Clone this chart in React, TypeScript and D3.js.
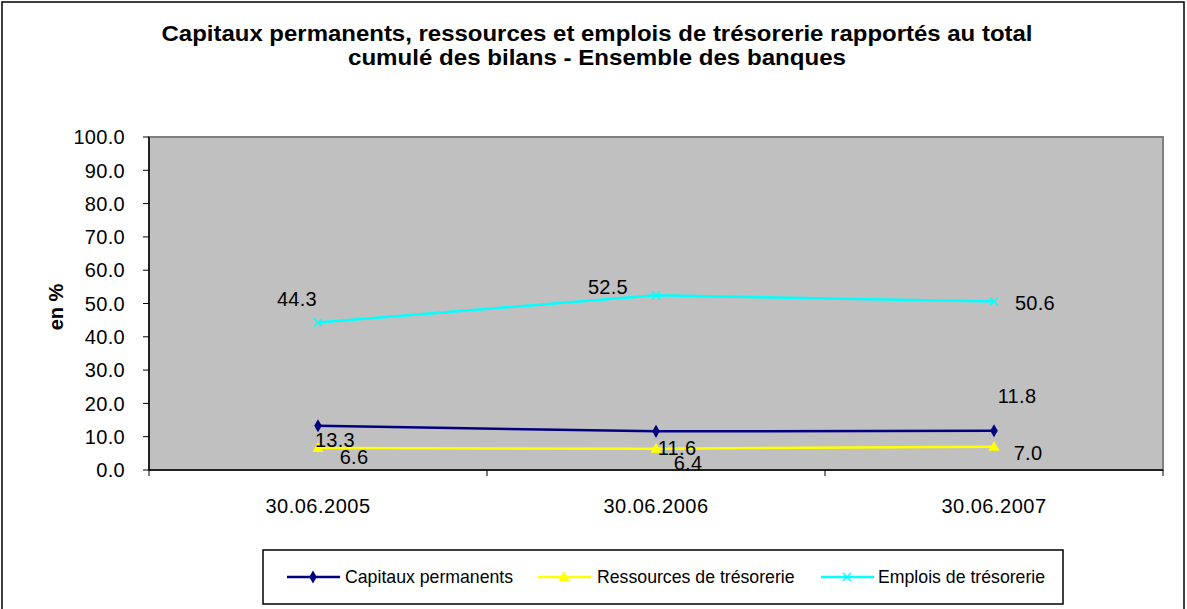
import React from 'react';
import * as d3 from 'd3';

const categories = ['30.06.2005', '30.06.2006', '30.06.2007'];
const capitauxPermanents = [13.3, 11.6, 11.8];
const ressourcesTresorerie = [6.6, 6.4, 7.0];
const emploisTresorerie = [44.3, 52.5, 50.6];
const yTicks = [0, 10, 20, 30, 40, 50, 60, 70, 80, 90, 100];

const titleLines = [
  'Capitaux permanents, ressources et emplois de trésorerie rapportés au total',
  'cumulé des bilans - Ensemble des banques',
];

// pixel offsets of each data label from its point
const labelOffsets = {
  capitaux: [[17, 14], [21, 16], [23, -35]],
  ressources: [[36, 9], [32, 14], [34, 6]],
  emplois: [[-21, -24], [-48, -8], [41, 1]],
};

const FONT = '"Liberation Sans", Arial, sans-serif';
const W = 1187;
const H = 609;
const plot = { left: 149, top: 137, right: 1163, bottom: 470 };

type Marker = 'diamond' | 'triangle' | 'cross';

const series = [
  { key: 'capitaux', name: 'Capitaux permanents', values: capitauxPermanents, color: '#000080', marker: 'diamond' as Marker },
  { key: 'ressources', name: 'Ressources de trésorerie', values: ressourcesTresorerie, color: '#FFFF00', marker: 'triangle' as Marker },
  { key: 'emplois', name: 'Emplois de trésorerie', values: emploisTresorerie, color: '#00FFFF', marker: 'cross' as Marker },
];

const MarkerShape: React.FC<{ type: Marker; x: number; y: number; color: string }> = ({ type, x, y, color }) => {
  if (type === 'diamond') {
    return <path d={d3.symbol(d3.symbolDiamond, 50)()!} transform={`translate(${x},${y})`} fill={color} />;
  }
  if (type === 'triangle') {
    return <path d={`M${x},${y - 6}L${x + 5.5},${y + 4}L${x - 5.5},${y + 4}Z`} fill={color} />;
  }
  return (
    <path
      d={`M${x - 4},${y - 4}L${x + 4},${y + 4}M${x - 4},${y + 4}L${x + 4},${y - 4}`}
      stroke={color}
      strokeWidth={1.5}
      fill="none"
    />
  );
};

export default function App() {
  const x = d3.scaleBand<string>().domain(categories).range([plot.left, plot.right]).padding(0);
  const y = d3.scaleLinear().domain([0, 100]).range([plot.bottom, plot.top]);
  const cx = (c: string) => (x(c) ?? 0) + x.bandwidth() / 2;

  const line = d3
    .line<number>()
    .x((_, i) => cx(categories[i]))
    .y(d => y(d));

  const xBoundaries = [...categories.map(c => x(c) ?? 0), plot.right];

  const legendItems = [
    { lx: 287, tx: 345 },
    { lx: 538, tx: 597 },
    { lx: 821, tx: 878 },
  ];
  const titleWidths = [871, 498];

  return (
    <svg
      width={W}
      height={H}
      style={{ position: 'absolute', left: 0, top: 0, background: '#fff' }}
      fontFamily={FONT}
    >
      {/* outer chart border */}
      <rect x={2} y={2} width={1182} height={620} fill="#fff" stroke="#000" strokeWidth={1.5} />

      {/* title */}
      {titleLines.map((t, i) => (
        <text
          key={i}
          x={597 - titleWidths[i] / 2}
          y={41 + i * 24}
          fontSize={22}
          fontWeight="bold"
          fill="#000"
          textLength={titleWidths[i]}
          lengthAdjust="spacingAndGlyphs"
        >
          {t}
        </text>
      ))}

      {/* plot area */}
      <rect
        x={plot.left}
        y={plot.top}
        width={plot.right - plot.left}
        height={plot.bottom - plot.top}
        fill="#C0C0C0"
        stroke="#808080"
        strokeWidth={2}
      />

      {/* y axis */}
      <line x1={plot.left} x2={plot.left} y1={plot.top} y2={plot.bottom} stroke="#000" strokeWidth={1.5} />
      {yTicks.map(t => (
        <g key={t}>
          <line x1={plot.left - 6} x2={plot.left} y1={y(t)} y2={y(t)} stroke="#000" />
          <text x={125} y={y(t)} dy="0.36em" textAnchor="end" fontSize={20} letterSpacing={0.3} fill="#000">
            {d3.format('.1f')(t)}
          </text>
        </g>
      ))}
      <text
        transform={`translate(63,307) rotate(-90)`}
        textAnchor="middle"
        fontSize={20}
        fontWeight="bold"
        fill="#000"
      >
        en %
      </text>

      {/* x axis */}
      <line x1={plot.left} x2={plot.right} y1={plot.bottom} y2={plot.bottom} stroke="#000" strokeWidth={1.5} />
      {xBoundaries.map((b, i) => (
        <line key={i} x1={b} x2={b} y1={plot.bottom} y2={plot.bottom + 6} stroke="#000" />
      ))}
      {categories.map(c => (
        <text key={c} x={cx(c)} y={513} textAnchor="middle" fontSize={20} letterSpacing={0.5} fill="#000">
          {c}
        </text>
      ))}

      {/* series */}
      {series.map(s => (
        <g key={s.key}>
          <path d={line(s.values)!} fill="none" stroke={s.color} strokeWidth={2.5} />
          {s.values.map((v, i) => (
            <MarkerShape key={i} type={s.marker} x={cx(categories[i])} y={y(v)} color={s.color} />
          ))}
        </g>
      ))}

      {/* data labels */}
      {series.map(s =>
        s.values.map((v, i) => {
          const [dx, dy] = (labelOffsets as any)[s.key][i];
          return (
            <text
              key={`${s.key}-${i}`}
              x={cx(categories[i]) + dx}
              y={y(v) + dy}
              dy="0.36em"
              textAnchor="middle"
              fontSize={20}
              letterSpacing={0.3}
              fill="#000"
            >
              {d3.format('.1f')(v)}
            </text>
          );
        })
      )}

      {/* legend */}
      <rect x={263} y={550} width={800} height={54} fill="#fff" stroke="#000" strokeWidth={1.5} />
      {series.map((s, i) => {
        const it = legendItems[i];
        return (
          <g key={s.key}>
            <line x1={it.lx} x2={it.lx + 53} y1={577} y2={577} stroke={s.color} strokeWidth={2.5} />
            <MarkerShape type={s.marker} x={it.lx + 26} y={577} color={s.color} />
            <text x={it.tx} y={577} dy="0.36em" fontSize={17.7} fill="#000">
              {s.name}
            </text>
          </g>
        );
      })}
    </svg>
  );
}
